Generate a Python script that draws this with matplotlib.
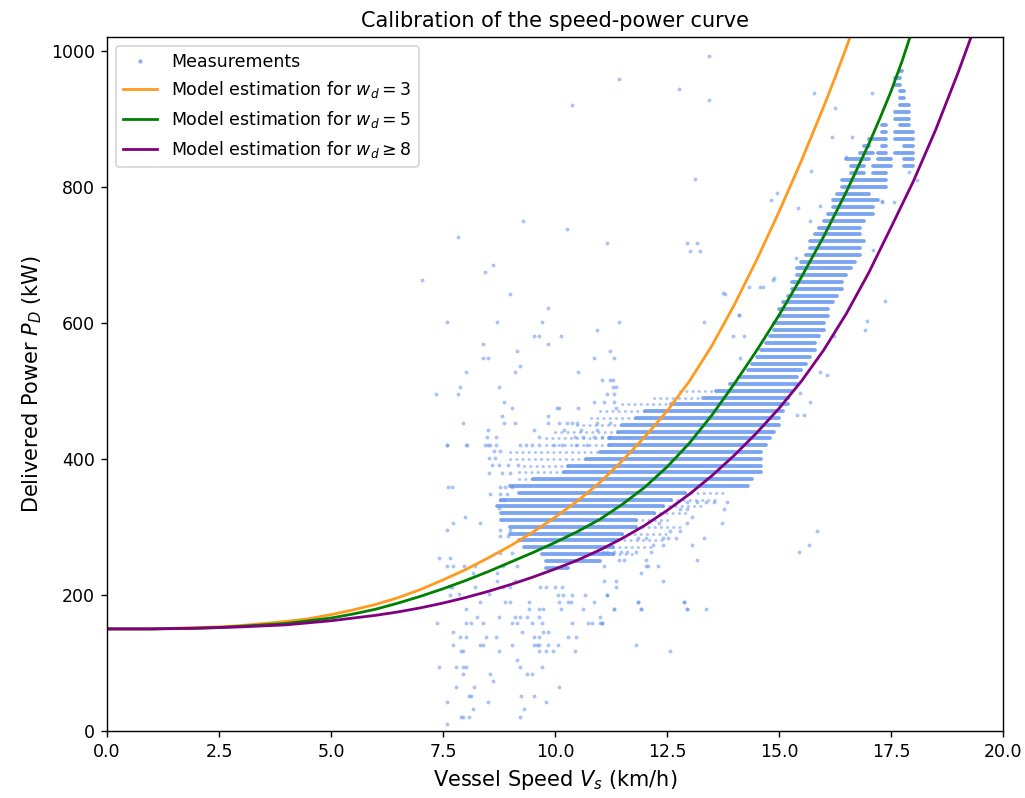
import matplotlib.pyplot as plt
from matplotlib.lines import Line2D

# model curves (speed km/h, power kW)
speed_w3 = [0, 0.5, 1, 1.5, 2, 2.5, 3, 3.5, 4, 4.5, 5, 5.5, 6, 6.5, 7, 7.5, 8, 8.5, 9, 9.5, 10, 10.5,
            11, 11.5, 12, 12.5, 13, 13.5, 14, 14.5, 15, 15.5, 16, 16.25, 16.5, 16.75]
power_w3 = [150, 150, 150, 151, 152, 153, 155, 158, 161, 165, 171, 178, 186, 196, 208, 222, 237, 254, 272, 292, 314, 338,
            365, 397, 432, 470, 514, 566, 626, 692, 763, 838, 918, 960, 1004, 1050]

speed_w5 = [0, 0.5, 1, 1.5, 2, 2.5, 3, 3.5, 4, 4.5, 5, 5.5, 6, 6.5, 7, 7.5, 8, 8.5, 9, 9.5, 10, 10.5,
            11, 11.5, 12, 12.5, 13, 13.5, 14, 14.5, 15, 15.5, 16, 16.5, 17, 17.25, 17.5, 17.75, 18]
power_w5 = [150, 150, 150, 150.5, 151, 152, 154, 156, 158, 162, 166, 172, 179, 188, 198, 209, 221, 234, 248, 262, 277, 293,
            311, 333, 358, 388, 423, 464, 510, 559, 611, 667, 727, 792, 862, 900, 940, 985, 1035]

speed_w8 = [0, 0.5, 1, 1.5, 2, 2.5, 3, 3.5, 4, 4.5, 5, 5.5, 6, 6.5, 7, 7.5, 8, 8.5, 9, 9.5, 10, 10.5,
            11, 11.5, 12, 12.5, 13, 13.5, 14, 14.5, 15, 15.5, 16, 16.5, 17, 17.5, 18, 18.5, 19, 19.25, 19.5]
power_w8 = [150, 150, 150, 150.5, 151, 152, 153, 154.5, 156, 159, 162, 166, 170, 175, 181, 188, 196, 205, 215, 226, 238, 251,
            266, 283, 302, 324, 348, 375, 405, 438, 474, 514, 560, 613, 673, 740, 808, 884, 968, 1013, 1060]

# measurements: dense rows of the scatter (power level, speed from, speed to)
row_power = [240, 250, 260, 270, 280, 290, 300, 310, 320, 330, 340, 350, 360, 370, 380, 390, 400,
             410, 420, 430, 440, 450, 460, 470, 480, 490, 500, 510, 520, 530, 540, 550, 560, 570,
             580, 590, 600, 610, 620, 630, 640, 650, 660, 670, 680, 690, 700, 710, 720, 730, 740,
             750, 760, 770, 780, 790, 800, 810, 820, 820, 830, 830, 830, 840, 840, 840, 850, 850,
             850, 860, 860, 860, 870, 870, 880, 880, 890, 890, 900, 910, 920, 930, 940, 950, 960, 970]
row_start = [9.8, 9.8, 9.7, 9.3, 9.2, 9.0, 9.0, 8.8, 8.8, 8.7, 8.8, 9.2, 9.0, 9.5, 10.2, 10.3, 10.7,
             11.0, 11.2, 11.2, 11.4, 11.5, 11.8, 12.0, 12.6, 13.3, 13.6, 13.9, 14.1, 14.3, 14.4, 14.5, 14.6, 14.7,
             14.8, 14.9, 14.9, 15.0, 15.0, 15.1, 15.2, 15.3, 15.3, 15.4, 15.4, 15.5, 15.6, 15.7, 15.7, 15.8, 15.9,
             16.0, 16.1, 16.2, 16.2, 16.3, 16.4, 16.4, 16.6, 17.1, 16.6, 17.1, 17.8, 16.5, 17.2, 17.8, 16.8, 17.2,
             17.6, 16.9, 17.3, 17.8, 17.0, 17.6, 17.3, 17.6, 17.3, 17.7, 17.6, 17.6, 17.7, 17.7, 17.7, 17.6, 17.6, 17.7]
row_end = [10.3, 11.0, 11.3, 11.3, 11.4, 11.5, 11.8, 11.8, 12.2, 12.4, 12.6, 12.9, 14.3, 14.4, 14.6, 14.6, 14.6,
           14.6, 14.7, 14.8, 14.9, 15.0, 15.0, 15.1, 15.2, 15.2, 15.3, 15.4, 15.4, 15.5, 15.6, 15.7, 15.8, 15.8,
           15.9, 16.0, 16.0, 16.1, 16.1, 16.2, 16.3, 16.4, 16.4, 16.5, 16.6, 16.7, 16.8, 16.8, 16.9, 16.8, 16.8,
           16.9, 17.1, 17.1, 17.2, 17.0, 17.4, 17.4, 16.9, 17.4, 16.9, 17.5, 18.0, 17.0, 17.5, 18.0, 17.1, 17.4,
           18.0, 17.0, 17.4, 18.0, 17.4, 18.0, 17.4, 18.0, 17.4, 17.9, 17.9, 17.9, 17.9, 17.8, 17.8, 17.7, 17.7, 17.75]

# thinner parts of the rows, scattered measurements
sparse_power = [370, 380, 390, 400, 410, 420, 430, 440, 450, 460, 470, 480, 490, 500,
                260, 270, 280, 290, 300, 310, 320, 330, 340, 350]
sparse_start = [9.2, 9.2, 9.3, 9.0, 9.0, 9.8, 9.8, 10.0, 10.5, 10.8, 11.0, 11.5, 12.2, 12.8,
                11.3, 11.3, 11.4, 11.5, 11.8, 11.8, 12.2, 12.4, 12.6, 12.9]
sparse_end = [9.5, 10.2, 10.3, 10.7, 11.0, 11.2, 11.2, 11.4, 11.5, 11.8, 12.0, 12.6, 13.3, 13.6,
              11.8, 12.2, 12.4, 12.6, 12.8, 12.6, 13.0, 13.3, 13.6, 13.8]

# isolated measurements
meas_speed = [
    9.29, 10.27, 7.84, 11.17, 8.62, 8.44, 7.04, 8.99, 9.85, 7.58, 8.70, 9.70, 11.43, 10.94, 9.53, 9.65, 10.13,
    8.39, 9.85, 8.39, 8.50, 9.16, 10.88, 11.31, 11.23, 9.22, 8.01, 9.10, 10.51, 11.05, 11.23, 11.30, 7.89,
    8.76, 11.30, 11.36, 7.35, 7.84, 11.17, 11.31, 8.86, 10.88, 11.10, 11.31, 9.05, 10.04, 10.10, 10.51, 11.36,
    8.81, 9.85, 7.95, 8.86, 9.10, 9.85, 10.08, 10.26, 10.37, 10.49, 10.94, 11.23, 8.50, 9.53, 10.20, 10.57,
    10.94, 8.68, 9.65, 10.45, 10.63, 10.88, 11.06, 11.23, 7.58, 8.01, 8.44, 8.50, 8.56, 8.68, 9.22, 9.36,
    9.48, 9.65, 9.97, 10.16, 10.48, 10.71,
    7.66, 8.70, 9.11, 7.66, 9.67, 9.81, 10.0, 10.15, 10.07, 10.19, 10.39, 10.68, 11.17, 8.33, 8.88, 9.0,
    9.42, 10.09, 10.30, 10.36, 10.88, 11.86, 12.89, 8.01, 9.42, 9.65, 9.74, 10.14, 10.62, 11.31, 11.91, 12.95,
    8.27, 8.76, 9.11, 9.22, 9.37, 9.65, 7.36, 8.01, 8.12, 8.39, 9.05, 9.16, 9.48, 9.70, 10.39, 10.74, 10.82,
    11.0, 11.06, 7.72, 9.26, 9.74, 9.85, 7.89, 8.01, 8.45, 8.68, 9.53, 9.65, 10.28, 10.46, 7.72, 8.33, 8.39,
    9.05, 9.53, 9.59, 9.65, 9.85, 10.07, 11.80, 7.90, 7.95, 8.76, 9.65, 9.79, 9.96, 10.45, 12.57, 9.16, 7.41,
    7.78, 7.95, 8.01, 9.22, 9.70, 7.95, 8.55, 9.37, 9.48, 8.61, 7.78, 8.19, 10.08, 8.07, 8.12, 9.25, 9.54,
    7.58, 8.50, 9.79, 8.18, 9.31, 7.90, 7.95, 8.07, 9.22, 7.58,
    15.84, 15.67, 15.44, 13.72, 12.95, 12.32, 13.83, 13.55, 13.38, 13.17, 12.95, 13.77, 13.06, 12.95, 12.79,
    12.56, 12.80, 13.33, 12.71, 12.53, 12.41, 12.03, 11.86, 13.05, 12.40, 12.19, 12.14, 11.80, 11.60, 11.48,
    11.31, 11.15, 11.07, 13.17, 12.03, 11.54, 11.42, 12.31, 12.08, 12.03, 11.10, 11.92, 12.40, 11.37, 11.10,
    11.37, 11.16, 12.88, 11.86, 13.38, 12.95, 11.92, 11.31, 11.0, 11.05,
    13.44, 13.44, 13.12, 15.79, 17.08, 16.26, 12.94, 13.16, 13.01, 13.24, 14.95, 14.82, 15.43, 13.79, 14.11,
    13.33, 14.33, 14.64, 14.87, 15.71, 16.18, 16.64, 16.49, 17.37, 18.07, 17.90, 17.57, 17.29, 15.39, 11.43,
    12.77, 10.38,
    7.59, 8.03, 8.48, 8.63, 8.78, 8.52, 8.66, 8.59, 8.74, 8.96, 9.18, 8.52, 8.81, 9.0, 7.62, 7.70, 8.78, 8.89,
    9.04, 8.55, 8.78, 8.92, 8.78, 8.86, 8.76, 7.73, 8.33, 7.99, 7.59, 8.78, 9.0, 8.78, 8.96, 7.40, 7.66, 8.78,
    9.04, 7.59, 7.73, 7.96, 8.22, 8.85, 9.15, 8.18, 8.70, 7.70, 8.22, 8.85, 9.0, 7.85, 8.52,
    16.96, 16.92, 17.11, 16.22, 15.92, 16.07, 15.70, 15.55, 15.40, 15.47, 13.76, 14.10, 14.13, 13.98, 14.21,
    14.58, 14.88, 15.92, 15.69, 17.31]
meas_power = [
    749, 738, 726, 717, 685, 675, 663, 643, 622, 601, 601, 601, 601, 590, 580, 580, 580,
    569, 569, 548, 548, 558, 548, 548, 558, 537, 527, 527, 527, 516, 516, 516, 506,
    506, 506, 506, 495, 495, 495, 495, 484, 484, 484, 484, 474, 474, 474, 474, 474,
    463, 463, 453, 453, 453, 453, 453, 453, 453, 453, 453, 453, 443, 443, 443, 443,
    443, 432, 432, 432, 432, 432, 432, 432, 421, 421, 421, 421, 421, 421, 421, 421,
    421, 421, 421, 421, 421, 421,
    212, 220, 220, 200, 212, 212, 212, 212, 200, 200, 200, 200, 200, 190, 190, 190,
    190, 190, 190, 190, 190, 190, 190, 179, 179, 179, 179, 179, 179, 179, 179, 179,
    168, 168, 168, 168, 168, 168, 158, 158, 158, 158, 158, 158, 158, 158, 158, 158, 158,
    158, 158, 146, 146, 146, 146, 138, 138, 138, 138, 138, 138, 138, 138, 126, 126, 126,
    126, 126, 126, 126, 126, 126, 126, 117, 117, 117, 117, 117, 117, 117, 117, 105, 94,
    94, 94, 94, 94, 94, 84, 84, 84, 84, 73, 64, 64, 64, 52, 52, 52, 52,
    43, 43, 43, 32, 32, 21, 21, 21, 21, 10,
    294, 274, 263, 306, 306, 306, 336, 336, 336, 336, 336, 326, 315, 326, 326,
    294, 294, 284, 284, 284, 284, 284, 284, 274, 274, 274, 263, 263, 263, 263,
    263, 263, 263, 252, 252, 252, 252, 242, 242, 242, 242, 232, 221, 221, 221,
    211, 200, 190, 190, 179, 179, 179, 179, 168, 158,
    992, 927, 811, 938, 938, 916, 717, 717, 706, 706, 791, 780, 769, 642, 611,
    601, 652, 652, 663, 823, 873, 873, 844, 632, 810, 822, 778, 778, 695, 959,
    944, 920,
    420, 420, 432, 411, 411, 401, 401, 391, 391, 391, 391, 379, 379, 379, 359, 359, 359, 359,
    359, 349, 349, 349, 340, 340, 327, 306, 306, 315, 296, 296, 296, 286, 286, 254, 254, 261,
    261, 242, 242, 242, 242, 242, 242, 232, 232, 212, 212, 212, 212, 202, 202,
    602, 590, 707, 580, 528, 523, 484, 465, 465, 497, 644, 612, 548, 580, 580,
    653, 666, 771, 749, 779]

fig = plt.figure(figsize=(8.2, 6.384), dpi=125)
ax = fig.add_axes([0.1044, 0.084, 0.8741, 0.8696])

dense = ax.hlines(row_power, row_start, row_end, colors='cornflowerblue', linewidth=2.2, alpha=0.85)
dense.set_capstyle('round')
sp = ax.hlines(sparse_power, sparse_start, sparse_end, colors='cornflowerblue', linewidth=1.7,
               alpha=0.55, linestyles=[(0, (0.1, 2.0))])
sp.set_capstyle('round')
ax.scatter(meas_speed, meas_power, s=5, color='cornflowerblue', alpha=0.55, linewidths=0)

orange = '#ff9a1f'
ax.plot(speed_w3, power_w3, color=orange, lw=1.6)
ax.plot(speed_w5, power_w5, color='green', lw=1.6)
ax.plot(speed_w8, power_w8, color='purple', lw=1.6)

handles = [Line2D([], [], ls='none', marker='o', ms=1.5, color='cornflowerblue', alpha=0.6),
           Line2D([], [], color=orange, lw=1.6),
           Line2D([], [], color='green', lw=1.6),
           Line2D([], [], color='purple', lw=1.6)]
labels = ['Measurements',
          r'Model estimation for $w_d = 3$',
          r'Model estimation for $w_d = 5$',
          r'Model estimation for $w_d \geq 8$']
ax.legend(handles, labels, loc='upper left')

ax.set_xlim(0, 20)
ax.set_ylim(0, 1020)
ax.set_title('Calibration of the speed-power curve')
ax.set_xlabel(r'Vessel Speed $V_s$ (km/h)', fontsize=12)
ax.set_ylabel(r'Delivered Power $P_D$ (kW)', fontsize=12)

fig.savefig('out.png', dpi=125)
